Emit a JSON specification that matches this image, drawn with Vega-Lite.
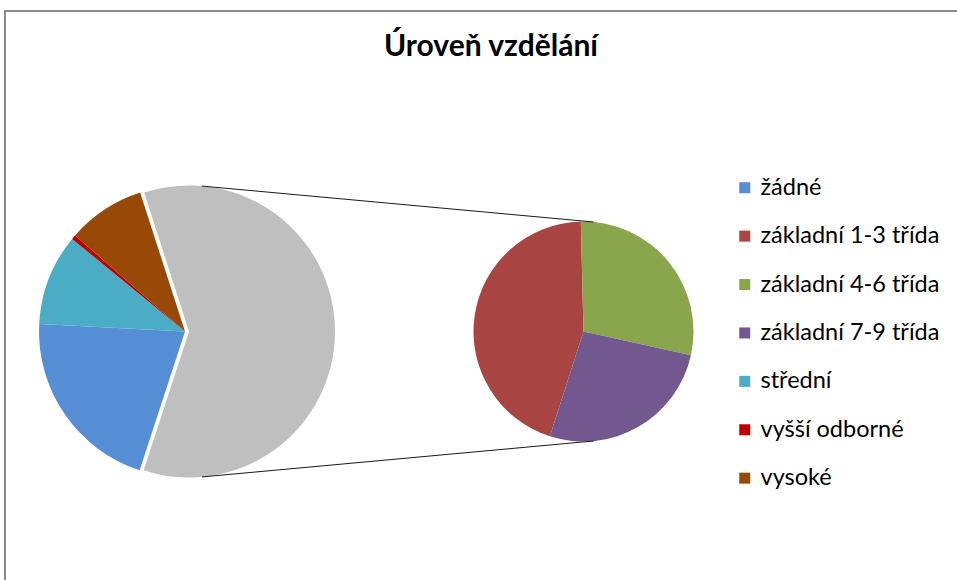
{
  "$schema": "https://vega.github.io/schema/vega-lite/v6.json",
  "width": 960,
  "height": 641,
  "autosize": "none",
  "padding": {"left": 5, "top": 11, "right": 0, "bottom": 0},
  "background": "white",
  "config": {
    "view": {"stroke": "#8a8a8a", "strokeWidth": 2},
    "font": "Lato"
  },
  "title": {
    "text": "Úroveň vzdělání",
    "anchor": "middle",
    "frame": "group",
    "orient": "top",
    "offset": -75,
    "baseline": "alphabetic",
    "dx": 6,
    "font": "Lato",
    "fontSize": 30,
    "fontWeight": "bold",
    "color": "#000000"
  },
  "datasets": {
    "vzdelani": [
      {"kategorie": "žádné", "hodnota": 20.8, "graf": "hlavní"},
      {"kategorie": "základní 1-3 třída", "hodnota": 26.8, "graf": "vedlejší"},
      {"kategorie": "základní 4-6 třída", "hodnota": 17.3, "graf": "vedlejší"},
      {"kategorie": "základní 7-9 třída", "hodnota": 15.9, "graf": "vedlejší"},
      {"kategorie": "střední", "hodnota": 10.1, "graf": "hlavní"},
      {"kategorie": "vyšší odborné", "hodnota": 0.5, "graf": "hlavní"},
      {"kategorie": "vysoké", "hodnota": 8.6, "graf": "hlavní"}
    ],
    "spojnice": [
      {"hrana": "horní", "y_od": 0.996, "y_do": 0.75},
      {"hrana": "dolní", "y_od": -0.996, "y_do": -0.75}
    ]
  },
  "resolve": {"scale": {"theta": "independent"}},
  "layer": [
    {
      "data": {"name": "vzdelani"},
      "transform": [
        {"stack": "hodnota", "groupby": [], "sort": [{"field": "graf", "order": "ascending"}], "as": ["v0", "v1"]}
      ],
      "layer": [
        {
          "transform": [{"filter": "datum.graf === 'hlavní'"}],
          "mark": {"type": "arc", "radius": 146},
          "encoding": {
            "x": {"datum": "hlavní", "type": "nominal", "axis": null, "scale": {"type": "point", "domain": ["hlavní", "vedlejší"], "range": [180, 578.5], "padding": 0}},
            "theta": {"field": "v1", "type": "quantitative", "scale": {"range": [3.4575, 9.7407], "nice": false, "zero": true}},
            "theta2": {"field": "v0"},
            "color": {
              "field": "kategorie",
              "type": "nominal",
              "scale": {
                "domain": ["žádné", "základní 1-3 třída", "základní 4-6 třída", "základní 7-9 třída", "střední", "vyšší odborné", "vysoké"],
                "range": ["#558ed5", "#a84542", "#8aa64c", "#735890", "#4bacc6", "#c00000", "#984807"]
              },
              "legend": {
                "title": null,
                "orient": "none",
                "legendX": 728,
                "legendY": 165,
                "symbolType": "square",
                "symbolSize": 121,
                "symbolStrokeWidth": 0,
                "labelFont": "Lato",
                "labelFontSize": 23.5,
                "labelColor": "#000000",
                "labelOffset": 4,
                "rowPadding": 23.4,
                "labelLimit": 300
              }
            }
          }
        },
        {
          "transform": [
            {"filter": "datum.graf === 'vedlejší'"},
            {"aggregate": [{"op": "min", "field": "v0", "as": "v0"}, {"op": "max", "field": "v1", "as": "v1"}], "groupby": []}
          ],
          "mark": {"type": "arc", "radius": 146, "color": "#bfbfbf", "xOffset": 4},
          "encoding": {
            "x": {"datum": "hlavní", "type": "nominal", "axis": null},
            "theta": {"field": "v1", "type": "quantitative"},
            "theta2": {"field": "v0"}
          }
        }
      ]
    },
    {
      "data": {"name": "vzdelani"},
      "transform": [
        {"filter": "datum.graf === 'vedlejší'"},
        {"stack": "hodnota", "groupby": [], "as": ["s0", "s1"]}
      ],
      "mark": {"type": "arc", "radius": 110},
      "encoding": {
        "x": {"datum": "vedlejší", "type": "nominal", "axis": null},
        "theta": {"field": "s1", "type": "quantitative", "scale": {"range": [3.4523, 9.7355], "nice": false, "zero": true}},
        "theta2": {"field": "s0"},
        "color": {"field": "kategorie", "type": "nominal"}
      }
    },
    {
      "data": {"name": "spojnice"},
      "mark": {"type": "rule", "color": "#1a1a1a", "strokeWidth": 1, "xOffset": 17, "x2Offset": 10},
      "encoding": {
        "x": {"datum": "hlavní", "type": "nominal", "axis": null},
        "x2": {"datum": "vedlejší"},
        "y": {"field": "y_od", "type": "quantitative", "axis": null, "scale": {"domain": [-2.1952, 2.1952], "nice": false, "zero": false}},
        "y2": {"field": "y_do"}
      }
    }
  ]
}
